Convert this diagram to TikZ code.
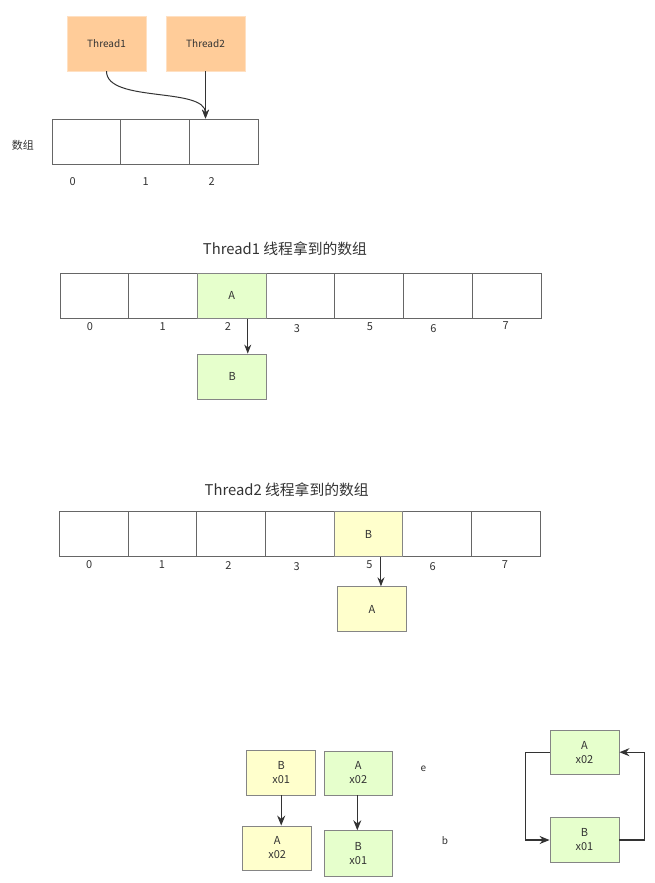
\documentclass[tikz,border=0pt]{standalone}
\usepackage{fontspec}
\setmainfont{Noto Sans CJK SC}
\usetikzlibrary{arrows.meta}
\definecolor{txt}{HTML}{333333}
\definecolor{cellline}{HTML}{666666}
\definecolor{boxline}{HTML}{858585}
\definecolor{orangefill}{HTML}{FFCC99}
\definecolor{greenfill}{HTML}{E6FFCC}
\definecolor{yellowfill}{HTML}{FFFFCC}
\begin{document}
\begin{tikzpicture}[x=1pt,y=-1pt,
  every node/.style={text=txt, inner sep=0pt},
  tbox/.style={fill=orangefill, draw=orangefill!60!white, minimum width=79pt, minimum height=55pt, font=\fontsize{10}{12}\selectfont},
  cell/.style={draw=cellline, fill=white, line width=0.8pt, minimum height=45pt, font=\fontsize{11}{13}\selectfont},
  gbox/.style={draw=boxline, fill=greenfill, line width=0.8pt, minimum width=69pt, minimum height=45pt, align=center, font=\fontsize{11}{14}\selectfont},
  ybox/.style={draw=boxline, fill=yellowfill, line width=0.8pt, minimum width=69pt, minimum height=45pt, align=center, font=\fontsize{11}{14}\selectfont},
  lbl/.style={font=\fontsize{11}{13}\selectfont},
  ttl/.style={font=\fontsize{14.8}{17}\selectfont},
  arr/.style={draw=txt, line width=1pt, -{Stealth[length=9pt,width=7pt]}},
  barr/.style={draw=txt, line width=1.4pt, -{Stealth[length=10pt,width=8pt]}},
]
\useasboundingbox (0,0) rectangle (655,883);

% ---- top part ----
\node[tbox] (t1) at (106.5,43.5) {Thread1};
\node[tbox] (t2) at (205.5,43.5) {Thread2};
\foreach \i in {0,1,2}{
  \node[cell, minimum width=68.8pt] (a\i) at ({52+68.8*\i+34.4},141.5) {};
}
\node[lbl] (arrlbl) at (23,145) {数组};
\node[lbl] (a0l) at (72.7,182) {0};
\node[lbl] (a1l) at (145.7,182) {1};
\node[lbl] (a2l) at (211.7,182) {2};
\draw[arr] (t2.south) -- (t2.south |- a2.north);
\draw[arr] (t1.south) .. controls +(0,32) and +(0,-32) .. (t2.south |- a2.north);

% ---- middle part ----
\node[ttl] (mt) at (285,249) {Thread1 线程拿到的数组};
\foreach \i in {0,...,6}{
  \node[cell, minimum width=68.7pt] (m\i) at ({60+68.7*\i+34.35},295.8) {};
}
\node[gbox, minimum width=68.7pt, minimum height=45pt] (m2a) at (m2) {A};
\node[gbox] (mB) at (232.2,376.5) {B};
\foreach \n/\x/\y in {0/90/326.7, 1/162.7/326.7, 2/228/326.7, 3/297/328.7, 5/370/326.7, 6/433.3/329, 7/505.7/326}{
  \node[lbl] (ml\n) at (\x,\y) {\n};
}
\draw[arr] ([xshift=16pt]m2a.south) -- ([xshift=16pt]m2a.south |- mB.north);

% ---- bottom part ----
\node[ttl] (nt) at (286.7,490) {Thread2 线程拿到的数组};
\foreach \i in {0,...,6}{
  \node[cell, minimum width=68.7pt] (n\i) at ({59.3+68.7*\i+34.35},534.2) {};
}
\node[ybox, minimum width=68.7pt, minimum height=45pt] (n4b) at (n4) {B};
\node[ybox] (nA) at (372,609.2) {A};
\foreach \n/\x/\y in {0/89.3/565, 1/162/565, 2/228.3/565, 3/296.7/567, 5/369.3/565, 6/432.7/567, 7/505/565}{
  \node[lbl] (nl\n) at (\x,\y) {\n};
}
\draw[arr] ([xshift=12.5pt]n4b.south) -- ([xshift=12.5pt]n4b.south |- nA.north);

% ---- bottom left ----
\node[ybox, minimum height=44.3pt] (p1) at (281.2,772.9) {B\\x01};
\node[gbox, minimum width=68.7pt, minimum height=44pt] (p2) at (358.3,773) {A\\x02};
\node[ybox, minimum height=44pt] (p3) at (277.2,848) {A\\x02};
\node[gbox, minimum width=68.7pt, minimum height=45.3pt] (p4) at (358.3,853.3) {B\\x01};
\draw[barr] (p1.south) -- (p1.south |- p3.north);
\draw[barr] ([xshift=-1pt]p2.south) -- ([xshift=-1pt]p2.south |- p4.north);
\node[lbl, font=\fontsize{10}{12}\selectfont] (le) at (423.3,769) {e};
\node[lbl, font=\fontsize{10}{12}\selectfont] (lb) at (445,841) {b};

% ---- bottom right ----
\node[gbox, minimum height=44.3pt] (q1) at (584.5,752.2) {A\\x02};
\node[gbox, minimum height=44.6pt] (q2) at (584.5,840) {B\\x01};
\draw[barr] (q1.west) -- ++(-24,0) |- (q2.west);
\draw[barr] (q2.east) -- ++(25,0) |- (q1.east);
\end{tikzpicture}
\end{document}
